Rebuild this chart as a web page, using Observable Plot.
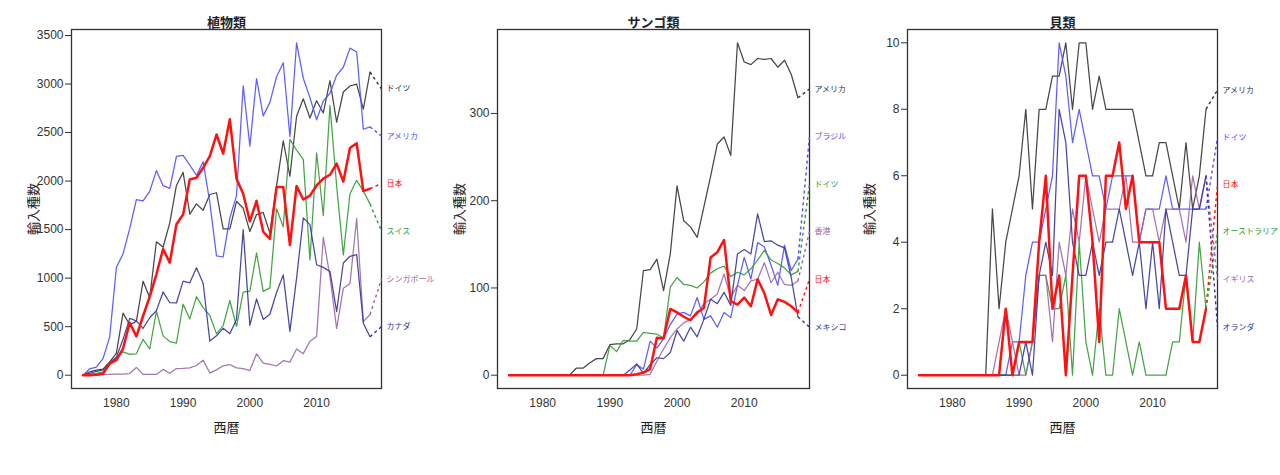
<!DOCTYPE html>
<html>
<head>
<meta charset="utf-8">
<script src="https://cdn.jsdelivr.net/npm/d3@7"></script>
<script src="https://cdn.jsdelivr.net/npm/@observablehq/plot@0.6"></script>
<style>
  html, body { margin: 0; padding: 0; background: #ffffff; }
  #wrap { position: relative; width: 1280px; height: 475px; overflow: hidden; }
  #wrap > svg { position: absolute; top: 0; overflow: visible; }
</style>
</head>
<body>
<div id="wrap"></div>
<script>
// ---------- shared ----------
const years = d3.range(1975, 2019);
const xTicks = [1980, 1990, 2000, 2010];
const xLabel = "西暦";
const yLabel = "輸入種数";

const cBlack = "#333333", cBlue = "#4d4dff", cRed = "#ff1111",
      cGreen = "#339933", cPurple = "#9966aa", cNavy = "#333399";

// ---------- 植物類 (plants) ----------
const plantsTitle = "植物類";
const plantsNames = ["ドイツ", "アメリカ", "日本", "スイス", "シンガポール", "カナダ"];
const plantsGermany = [0,35,52,62,138,224,640,520,555,968, 800,1375,1318,1570,1955,2090,1660,1765,1700,1862, 1880,1508,1508,1792,1720,1480,1655,1677,1464,1950, 2415,2050,2668,2848,2650,2828,2702,3034,2607,2918, 2980,3000,2742,3124];
const plantsUSA = [0,66,83,170,393,1110,1250,1510,1808,1796, 1895,2108,1953,1925,2255,2265,2165,2060,2198,1780, 1230,1218,1620,1850,2982,2360,3057,2672,2811,3075, 3220,2457,3425,3060,2860,2632,2824,2905,3090,3173, 3370,3331,2534,2558];
const plantsJapan = [0,0,5,15,120,155,275,540,400,610, 810,1040,1300,1160,1555,1655,2017,2034,2137,2258, 2480,2284,2637,2025,1870,1585,1796,1478,1405,1940, 1940,1340,1950,1810,1850,1955,2025,2065,2180,1996, 2340,2390,1897,1922];
const plantsSwiss = [0,10,20,35,110,175,240,215,220,370, 270,660,405,347,330,732,580,810,697,616, 426,510,770,502,855,866,1260,864,900,1715, 1528,2430,2318,2224,1188,2292,1645,2778,1950,1240, 1870,2008,1897,1765];
const plantsSingapore = [0,0,0,5,8,10,10,17,80,8, 8,8,60,20,68,70,76,100,155,22, 55,97,110,76,68,48,220,125,112,95, 150,135,270,222,350,400,1420,1018,480,895, 945,1615,552,625];
const plantsCanada = [0,20,40,55,130,185,370,585,560,482, 592,665,858,747,744,970,952,1106,948,352, 406,483,428,575,1500,513,786,575,628,852, 1034,452,1000,1621,1552,1138,1111,1069,655,1156, 1225,1242,535,397];
const plantsLabelY = [2950, 2465, 1975, 1485, 990, 500];
const plantsTicks = [0, 500, 1000, 1500, 2000, 2500, 3000, 3500];
const plantsColors = [cBlack, cBlue, cRed, cGreen, cPurple, cNavy];

// ---------- サンゴ類 (corals) ----------
const coralTitle = "サンゴ類";
const coralNames = ["アメリカ", "ブラジル", "ドイツ", "香港", "日本", "メキシコ"];
const coralUSA = [0,0,0,0,0,0,0,0,0,0, 8,8,14,19,19,35,36,36,41,53, 120,121,133,97,139,217,177,170,158,193, 228,265,273,252,381,359,356,363,362,363, 353,361,345,318];
const coralBrazil = [0,0,0,0,0,0,0,0,0,0, 0,0,0,0,0,0,0,0,0,12, 7,39,31,42,58,70,72,68,89,64, 68,55,72,66,103,135,110,152,147,126, 103,149,120,133];
const coralGermany = [0,0,0,0,0,0,0,0,0,0, 0,0,0,0,0,34,27,40,39,39, 49,48,47,43,101,112,104,103,100,107, 117,122,125,113,118,115,122,132,143,132, 128,123,115,119];
const coralHongKong = [0,0,0,0,0,0,0,0,0,0, 0,0,0,0,0,0,0,0,0,0, 0,1,16,30,43,53,60,64,70,82, 87,93,116,89,103,97,108,110,129,106, 118,104,103,108];
const coralJapan = [0,0,0,0,0,0,0,0,0,0, 0,0,0,0,0,0,0,0,0,1, 3,7,43,42,76,72,67,63,72,77, 135,141,155,85,81,89,79,110,94,69, 87,84,79,72];
const coralMexico = [0,0,0,0,0,0,0,0,0,0, 0,0,0,0,0,0,0,0,6,13, 2,12,20,19,26,51,39,55,44,64, 87,82,95,80,139,144,139,185,153,154, 149,146,112,67];
const coralLabelY = [328, 273.5, 219, 164.5, 110, 55];
const coralTicks = [0, 100, 200, 300];
const coralColors = [cBlack, cBlue, cGreen, cPurple, cRed, cNavy];

// ---------- 貝類 (shellfish) ----------
const shellTitle = "貝類";
const shellNames = ["アメリカ", "ドイツ", "日本", "オーストラリア", "イギリス", "オランダ"];
const shellUSA = [0,0,0,0,0,0,0,0,0,0, 0,5,2,4,5,6,8,5,8,8, 9,9,10,8,10,10,8,9,8,8, 8,8,8,7,6,6,7,7,6,5, 7,5,6,8];
const shellGermany = [0,0,0,0,0,0,0,0,0,0, 0,0,0,0,1,1,3,4,4,5, 6,10,9,7,8,7,6,6,5,6, 6,6,6,4,5,5,5,6,5,5, 5,5,5,5];
const shellJapan = [0,0,0,0,0,0,0,0,0,0, 0,0,0,2,0,1,1,1,4,6, 2,3,0,3,6,6,4,1,6,6, 7,5,6,4,4,4,4,2,2,2, 3,1,1,2];
const shellAustralia = [0,0,0,0,0,0,0,0,0,0, 0,0,0,0,0,1,0,1,3,3, 2,2,3,0,4,1,0,2,0,0, 2,1,0,1,0,0,0,0,1,1, 3,1,4,2];
const shellUK = [0,0,0,0,0,0,0,0,0,0, 0,0,1,2,1,0,0,1,3,3, 1,4,3,5,4,6,5,4,5,5, 5,6,4,4,5,5,4,5,5,5, 4,6,5,6];
const shellNetherlands = [0,0,0,0,0,0,0,0,0,0, 0,0,0,0,0,0,1,0,3,4, 3,8,7,4,3,3,4,3,4,4, 5,4,3,4,2,4,2,5,4,3, 3,5,5,6];
const shellLabelY = [8.58, 7.15, 5.74, 4.31, 2.88, 1.45];
const shellTicks = [0, 2, 4, 6, 8, 10];
const shellColors = [cBlack, cBlue, cRed, cGreen, cPurple, cNavy];

// ---------- drawing ----------
function panel({title, names, series, colors, labelY, yTicks, width, left, ml, mr}) {
  const rows = [];
  series.forEach((vals, i) => vals.forEach((v, j) => rows.push({i, year: years[j], value: v})));
  const all = series.flat();
  const ymin = d3.min(all), ymax = d3.max(all);
  const ypad = (ymax - ymin) * 0.04;
  const xmin = years[0], xmax = years[years.length - 1];
  const xpad = (xmax - xmin) * 0.04;
  const xr = xmax + xpad;
  const links = names.map((n, i) => ({
    i, name: n, x1: xmax, y1: series[i][series[i].length - 1], x2: xr, y2: labelY[i]
  }));
  const redIdx = colors.indexOf(cRed);
  const order = d3.range(series.length).filter(i => i !== redIdx).concat([redIdx]);
  const svg = Plot.plot({
    width, height: 475,
    marginLeft: ml, marginRight: mr, marginTop: 29, marginBottom: 87,
    style: {fontFamily: "'Liberation Sans', 'Noto Sans CJK JP', sans-serif", fontSize: "12px", color: "#333", background: "transparent", overflow: "visible"},
    x: {domain: [xmin - xpad, xr], ticks: xTicks, tickFormat: d => String(d), tickSize: 0, tickPadding: 10, label: null},
    y: {domain: [ymin - ypad, ymax + ypad], ticks: yTicks, tickFormat: d => String(d), tickSize: 6, tickPadding: 2, label: null},
    color: {type: "identity"},
    marks: [
      Plot.frame({stroke: "#333", strokeWidth: 1.3}),
      ...order.map(i => Plot.line(rows.filter(r => r.i === i), {
        x: "year", y: "value", stroke: colors[i],
        strokeWidth: i === redIdx ? 2.5 : 1.25,
        strokeOpacity: i === redIdx ? 1 : 0.9
      })),
      Plot.link(links, {x1: "x1", y1: "y1", x2: "x2", y2: "y2", stroke: d => colors[d.i], strokeDasharray: "3,3", strokeWidth: 1.4}),
      Plot.text(links, {x: "x2", y: "y2", text: "name", fill: d => colors[d.i], textAnchor: "start", dx: 5, fontSize: 8}),
      Plot.text([title], {frameAnchor: "top", lineAnchor: "middle", textAnchor: "middle", dy: -7, fontSize: 13, fontWeight: "bold", fill: "#222"}),
      Plot.text([xLabel], {frameAnchor: "bottom", lineAnchor: "middle", textAnchor: "middle", dy: 39, fontSize: 13, fill: "#222"}),
      Plot.text([yLabel], {frameAnchor: "left", lineAnchor: "middle", textAnchor: "middle", dx: -38, rotate: -90, fontSize: 13, fill: "#222"})
    ]
  });
  svg.style.left = left + "px";
  return svg;
}

const wrap = document.getElementById("wrap");
wrap.appendChild(panel({
  title: plantsTitle, names: plantsNames,
  series: [plantsGermany, plantsUSA, plantsJapan, plantsSwiss, plantsSingapore, plantsCanada],
  colors: plantsColors, labelY: plantsLabelY, yTicks: plantsTicks,
  width: 430, left: 0, ml: 71, mr: 49
}));
wrap.appendChild(panel({
  title: coralTitle, names: coralNames,
  series: [coralUSA, coralBrazil, coralGermany, coralHongKong, coralJapan, coralMexico],
  colors: coralColors, labelY: coralLabelY, yTicks: coralTicks,
  width: 430, left: 430, ml: 67, mr: 51
}));
wrap.appendChild(panel({
  title: shellTitle, names: shellNames,
  series: [shellUSA, shellGermany, shellJapan, shellAustralia, shellUK, shellNetherlands],
  colors: shellColors, labelY: shellLabelY, yTicks: shellTicks,
  width: 420, left: 860, ml: 47, mr: 63
}));
</script>
</body>
</html>
